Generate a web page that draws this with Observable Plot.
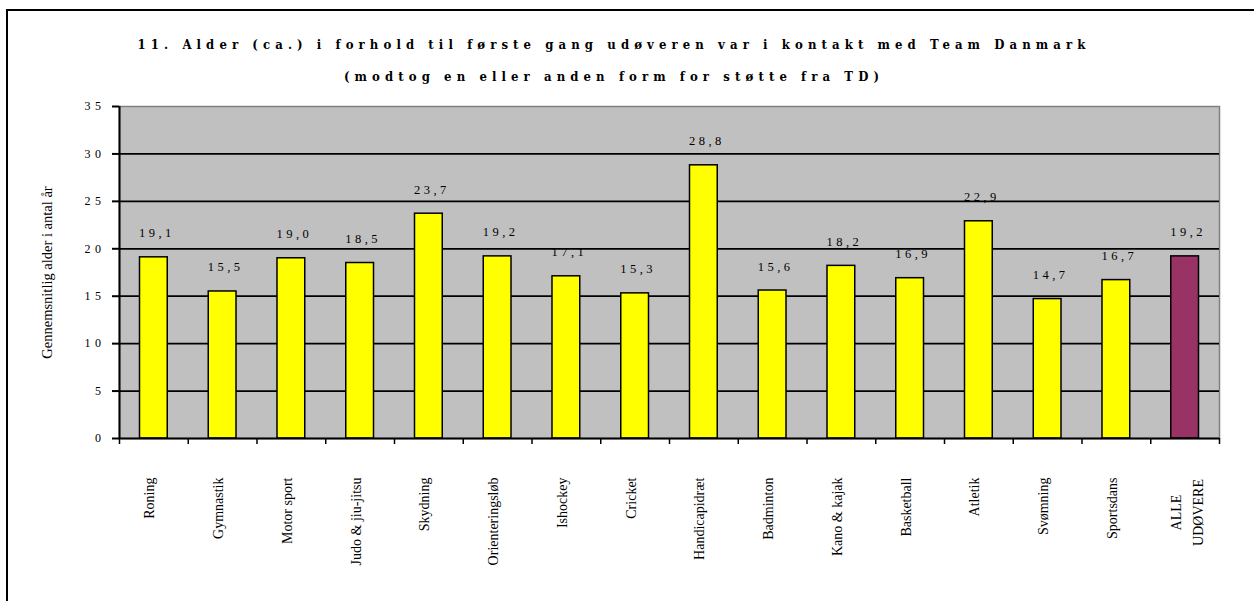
<!DOCTYPE html>
<html><head><meta charset="utf-8">
<script src="https://cdn.jsdelivr.net/npm/d3@7"></script>
<script src="https://cdn.jsdelivr.net/npm/@observablehq/plot@0.6"></script>
<style>
body{margin:0;background:#fff;width:1254px;height:601px;overflow:hidden;position:relative;font-family:"Liberation Serif","Times New Roman",serif;}
#frame{position:absolute;left:6px;top:9px;width:1300px;height:700px;border:2.5px solid #000;box-sizing:border-box}
.title{position:absolute;left:0;width:1228px;text-align:center;font-family:"DejaVu Serif Condensed","DejaVu Serif",serif;font-stretch:condensed;font-weight:bold;font-size:13px;letter-spacing:5.1px;white-space:nowrap}
#chart{position:absolute;left:0;top:0}
g[font-family="Liberation Serif"] text{letter-spacing:3.5px}
g[aria-label="y-axis tick label"] text{letter-spacing:4.5px}
</style></head><body>
<div id="frame"></div>
<div class="title" id="t1" style="top:37px"></div>
<div class="title" id="t2" style="top:69px"></div>
<div id="chart"></div>
<script>
const titleLines = ["11. Alder (ca.) i forhold til første gang udøveren var i kontakt med Team Danmark", "(modtog en eller anden form for støtte fra TD)"];
const yLabel = "Gennemsnitlig alder i antal år";
const categories = ["Roning", "Gymnastik", "Motor sport", "Judo & jiu-jitsu", "Skydning", "Orienteringsløb", "Ishockey", "Cricket", "Handicapidræt", "Badminton", "Kano & kajak", "Basketball", "Atletik", "Svømning", "Sportsdans", "ALLE\nUDØVERE"];
const values = [19.1, 15.5, 19.0, 18.5, 23.7, 19.2, 17.1, 15.3, 28.8, 15.6, 18.2, 16.9, 22.9, 14.7, 16.7, 19.2];
const yTicks = [0, 5, 10, 15, 20, 25, 30, 35];
const totalCategory = "ALLE\nUDØVERE";

document.getElementById("t1").textContent = titleLines[0];
document.getElementById("t2").textContent = titleLines[1];

const data = categories.map((c, i) => ({category: c, index: i, value: values[i]}));
const fmt = v => v.toFixed(1).replace(".", ",");
const serif = "'Times New Roman','Liberation Serif',serif";

const plot = Plot.plot({
  width: 1254, height: 601,
  marginTop: 106, marginBottom: 163, marginLeft: 119, marginRight: 35,
  style: {fontFamily: serif, background: "transparent", color: "#000", overflow: "visible"},
  x: {domain: [0, categories.length], axis: null},
  y: {domain: [0, 35], axis: null},
  marks: [
    Plot.frame({fill: "#C0C0C0", stroke: "#808080", strokeWidth: 1.5}),
    Plot.ruleY(yTicks.filter(t => t > 0 && t < 35), {stroke: "#000", strokeWidth: 1.8}),
    Plot.rectY(data.filter(d => d.category !== totalCategory), {x1: "index", x2: d => d.index + 1, y: "value", insetLeft: 20.5, insetRight: 20.5, fill: "#FFFF00", stroke: "#000", strokeWidth: 1.5}),
    Plot.rectY(data.filter(d => d.category === totalCategory), {x1: "index", x2: d => d.index + 1, y: "value", insetLeft: 20.5, insetRight: 20.5, fill: "#993366", stroke: "#000", strokeWidth: 1.5}),
    Plot.ruleX([0], {stroke: "#000", strokeWidth: 2}),
    Plot.ruleY([0], {stroke: "#000", strokeWidth: 2}),
    Plot.axisY({ticks: yTicks, tickSize: 7, tickPadding: 7, fontSize: 12, stroke: "#000", strokeWidth: 2, label: null}),
    Plot.axisX({ticks: d3.range(categories.length + 1), tickSize: 6, tickFormat: () => "", stroke: "#000", strokeWidth: 1.5, label: null}),
    Plot.text(data, {x: d => d.index + 0.5, y: "value", text: d => fmt(d.value), dy: -24, dx: 3, fontSize: 12.5, fill: "#000", fontFamily: "Liberation Serif"}),
    Plot.text(data.filter(d => d.category !== totalCategory), {x: d => d.index + 0.5, y: 0, text: "category", rotate: -90, textAnchor: "end", dy: 39, dx: -4, fontSize: 14, fill: "#000"}),
    Plot.text(data.filter(d => d.category === totalCategory), {x: d => d.index + 0.5, y: 0, text: "category", rotate: -90, textAnchor: "middle", lineAnchor: "middle", lineHeight: 1.55, dy: 74, dx: 0, fontSize: 14, fill: "#000"}),
    Plot.text([yLabel], {frameAnchor: "left", rotate: -90, textAnchor: "middle", dx: -72, fontSize: 14.5, fill: "#000"})
  ]
});
document.getElementById("chart").appendChild(plot);
</script>
</body></html>
